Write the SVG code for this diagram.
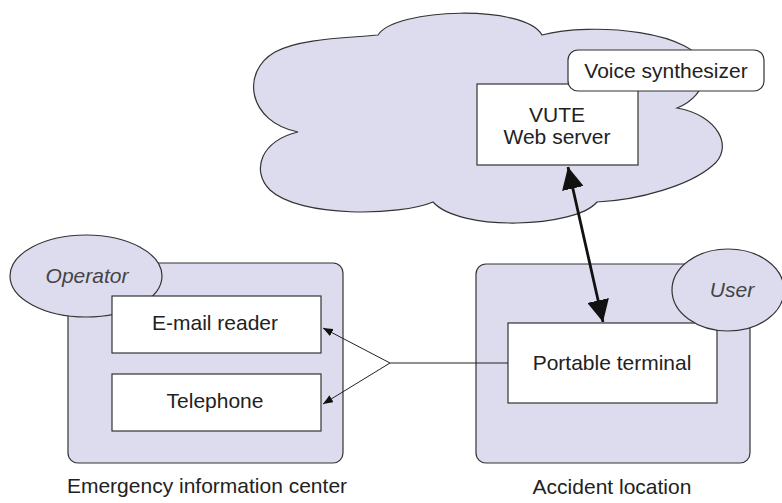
<svg xmlns="http://www.w3.org/2000/svg" width="782" height="503" viewBox="0 0 782 503">
<style>
.fill{fill:#dddcee;stroke:#333;stroke-width:1.2}
.box{fill:#fff;stroke:#333;stroke-width:1.2}
.t{font-family:"Liberation Sans",Arial,sans-serif;font-size:21px;fill:#222;text-anchor:middle}
.i{font-style:italic;fill:#444}
.thin{stroke:#222;stroke-width:1;fill:none}
.thick{stroke:#111;stroke-width:2.8;fill:none}
</style>
<defs>
<marker id="sm" markerUnits="userSpaceOnUse" markerWidth="10" markerHeight="8" refX="10" refY="4" orient="auto"><path d="M0,0 L10,4 L0,8 z" fill="#111"/></marker>
<marker id="big" markerUnits="userSpaceOnUse" markerWidth="22" markerHeight="22" refX="22" refY="11" orient="auto-start-reverse"><path d="M0,0 L22,11 L0,22 z" fill="#111"/></marker>
</defs>
<g id="cloud">
<path class="fill" d="M378,35 C395,8 525,4 542,35 C590,22 700,30 705,70 C706,90 690,103 677,108 C718,115 735,148 712,166 C690,185 640,200 597,202 C575,228 460,232 433,202 C400,216 300,218 270,190 C250,170 262,140 298,132 C248,122 240,72 275,52 C300,38 350,38 378,35 Z"/>
</g>
<g id="vute">
<rect class="box" x="477" y="84" width="161" height="81"/>
<text class="t" x="557" y="122">VUTE</text>
<text class="t" x="557" y="144">Web server</text>
</g>
<g id="voice">
<rect class="box" x="568" y="50" width="196" height="41" rx="10"/>
<text class="t" x="666" y="78">Voice synthesizer</text>
</g>
<g id="eic">
<rect class="fill" x="68" y="263" width="275" height="200" rx="10"/>
<text class="t" x="207" y="493">Emergency information center</text>
</g>
<g id="operator">
<ellipse class="fill" cx="86" cy="276" rx="76" ry="41"/>
<text class="t i" x="87" y="283">Operator</text>
</g>
<g id="email">
<rect class="box" x="112" y="296" width="209" height="57"/>
<text class="t" x="215" y="330">E-mail reader</text>
</g>
<g id="telephone">
<rect class="box" x="112" y="374" width="209" height="57"/>
<text class="t" x="215" y="408">Telephone</text>
</g>
<g id="accident">
<rect class="fill" x="476" y="264" width="274" height="199" rx="10"/>
<text class="t" x="612" y="494">Accident location</text>
</g>
<g id="terminal">
<rect class="box" x="508" y="323" width="209" height="80"/>
<text class="t" x="612" y="370">Portable terminal</text>
</g>
<g id="user">
<ellipse class="fill" cx="728" cy="290" rx="56" ry="41"/>
<text class="t i" x="732" y="297">User</text>
</g>
<g id="connectors">
<line class="thin" x1="508" y1="363" x2="390" y2="363"/>
<line class="thin" x1="390" y1="363" x2="323" y2="328" marker-end="url(#sm)"/>
<line class="thin" x1="390" y1="363" x2="323" y2="404" marker-end="url(#sm)"/>
<line class="thick" x1="568" y1="167" x2="603" y2="322" marker-start="url(#big)" marker-end="url(#big)"/>
</g>
</svg>
